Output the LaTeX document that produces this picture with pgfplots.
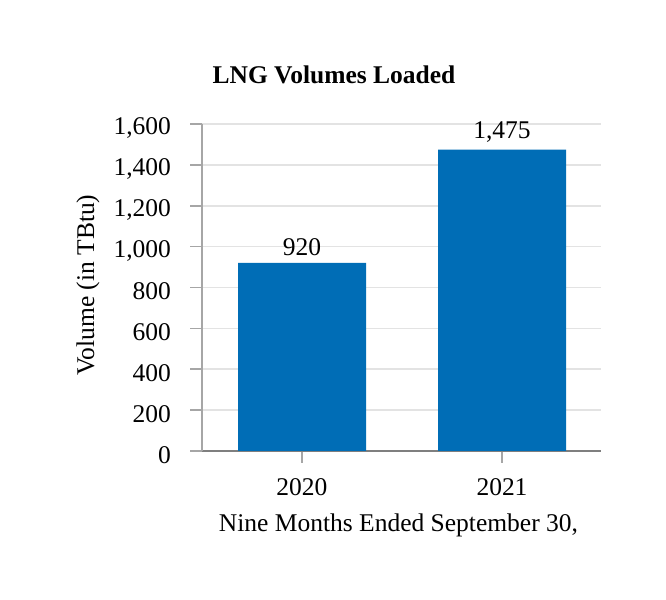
\documentclass[border=0pt]{standalone}
\usepackage{pgfplots}
\pgfplotsset{compat=1.18}
\usepackage{fontspec}
\setmainfont{Liberation Serif}
\definecolor{barblue}{HTML}{006DB6}
\definecolor{gridgray}{HTML}{E3E3E3}
\definecolor{axisgray}{HTML}{A6A6A6}
\definecolor{basegray}{HTML}{7F7F7F}
\begin{document}
\begin{tikzpicture}[x=1pt,y=1pt]
\useasboundingbox (0,0) rectangle (333,300);
\begin{axis}[
  at={(101pt,74.5pt)}, anchor=south west,
  scale only axis, width=199.5pt, height=163.5pt,
  font=\fontsize{12.75}{15}\selectfont,
  /pgf/number format/assume math mode=true,
  /pgf/number format/1000 sep={,},
  xmin=-0.5, xmax=1.495, ymin=0, ymax=1600,
  ytick={0,200,...,1600},
  xtick={0,1}, xticklabels={2020,2021},
  scaled y ticks=false,
  axis x line*=bottom, axis y line*=left,
  x axis line style={basegray, line width=0.8pt, -},
  y axis line style={axisgray, line width=0.8pt, -},
  tick align=outside, major tick length=6pt,
  every tick/.style={axisgray, line width=0.8pt},
  ymajorgrids, grid style={gridgray, line width=0.8pt},
  yticklabel style={xshift=-6pt, yshift=-2pt},
  xticklabel style={yshift=-4pt},
  ybar, bar width=64pt,
  nodes near coords,
  every node near coord/.append style={font=\fontsize{12.75}{15}\selectfont, /pgf/number format/assume math mode=true, /pgf/number format/1000 sep={,}, yshift=0pt},
  enlarge x limits=false,
]
\addplot[fill=barblue, draw=none, bar shift=0pt] coordinates {(0,920) (1,1475)};
\end{axis}
\node[font=\fontsize{12.75}{15}\selectfont\bfseries] at (167pt,262.5pt) {LNG Volumes Loaded};
\node[font=\fontsize{12.75}{15}\selectfont] at (199.25pt,37.5pt) {Nine Months Ended September 30,};
\node[font=\fontsize{12.75}{15}\selectfont, rotate=90] at (44pt,157.5pt) {Volume (in TBtu)};
\end{tikzpicture}
\end{document}
